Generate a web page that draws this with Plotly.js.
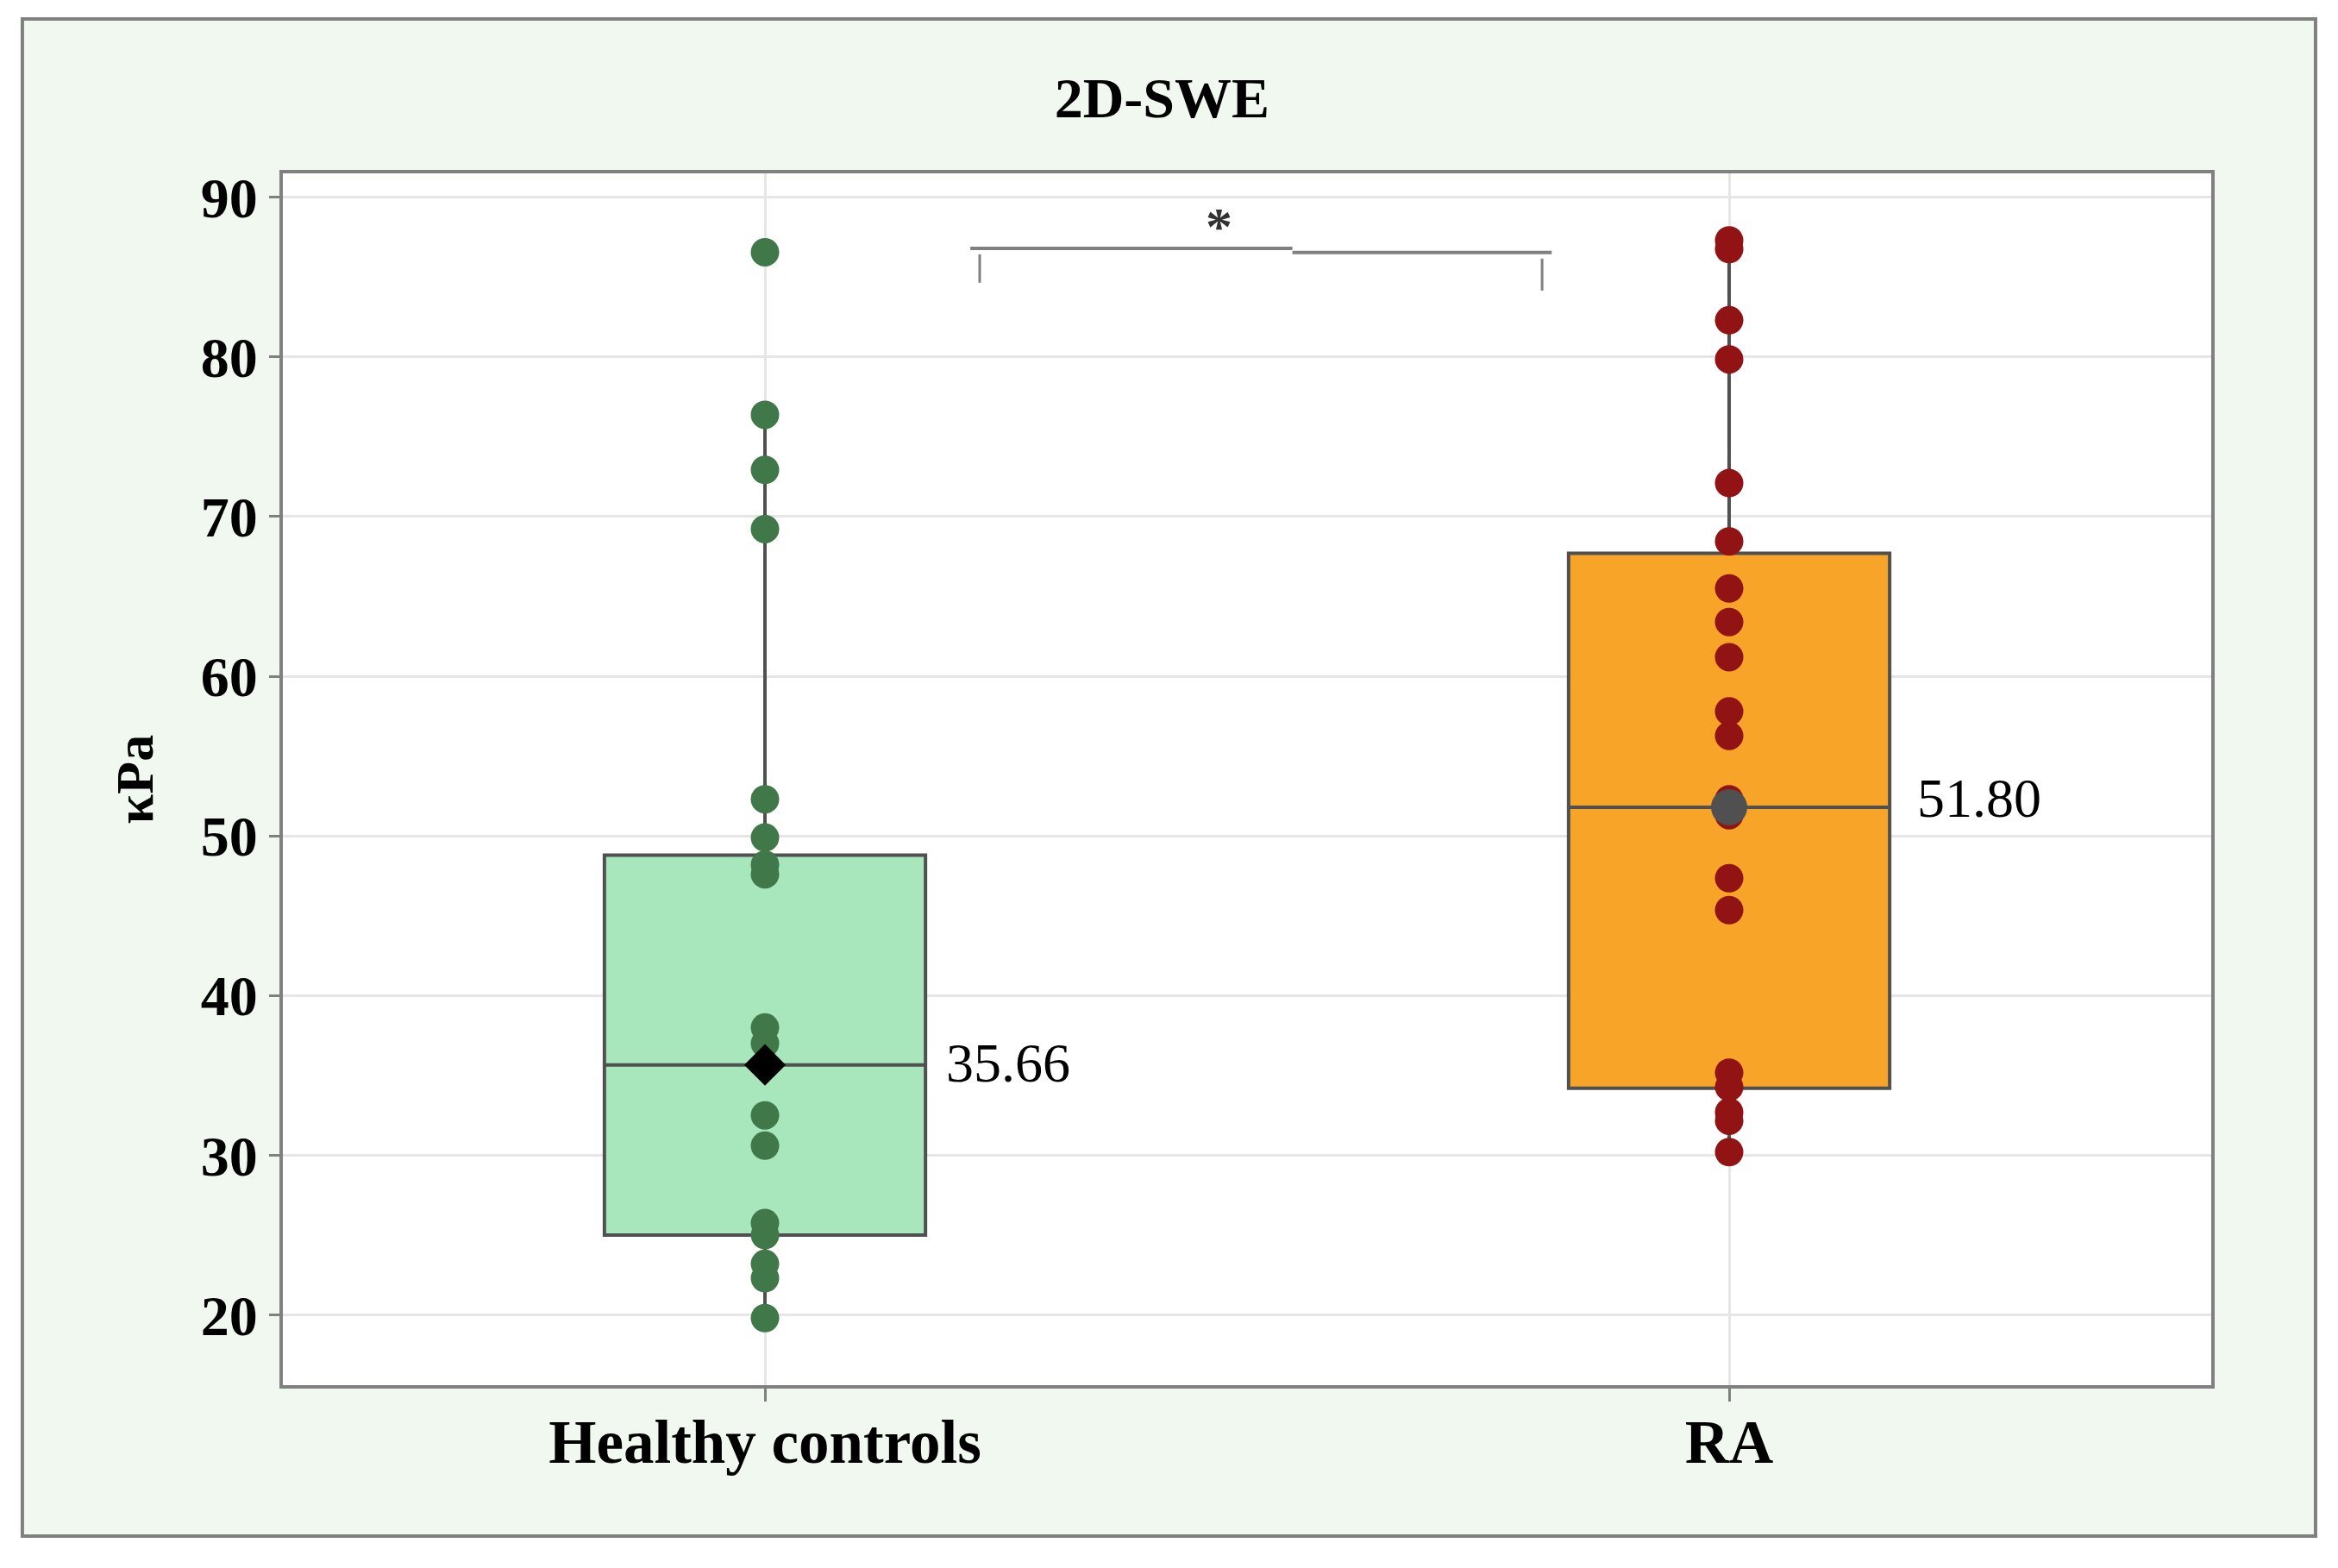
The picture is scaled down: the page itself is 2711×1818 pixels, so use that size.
<!DOCTYPE html>
<html>
<head>
<meta charset="utf-8">
<script src="https://cdn.plot.ly/plotly-3.0.1.min.js"></script>
<style>html,body{margin:0;padding:0;background:#fff;}#chart{width:2711px;height:1818px;}</style>
</head>
<body>
<div id="chart"></div>
<script>
// ---- data ----
const categories = ['Healthy controls', 'RA'];
const hcValues = [86.56, 76.38, 72.93, 69.22, 52.3, 49.9, 48.2, 47.6, 38.0, 37.0, 32.5, 30.6, 25.75, 25.0, 23.2, 22.3, 19.8];
const raValues = [87.3, 86.76, 82.3, 79.85, 72.1, 68.45, 65.5, 63.4, 61.2, 57.8, 56.27, 52.3, 51.3, 47.35, 45.35, 35.17, 34.27, 32.7, 32.16, 30.2];
const q1 = [25.0, 34.2];
const medians = [35.66, 51.80];
const q3 = [48.8, 67.7];
const lowerWhisker = [19.8, 30.2];
const upperWhisker = [76.4, 87.3];
const medianLabels = ['35.66', '51.80'];
const yTickVals = [20, 30, 40, 50, 60, 70, 80, 90];
const chartTitle = '2D-SWE';
const yTitle = 'κPa';
const sigLabel = '*';

// ---- styles ----
const serif = 'Liberation Serif, Times New Roman, serif';
const boxFill = ['#a8e6bc', '#f7a428'];
const pointColor = ['#41784a', '#921313'];
const groups = [hcValues, raValues];
const boxW = 0.333;

const traces = [];
categories.forEach((c, i) => {
  traces.push({
    type: 'box',
    x: [c],
    q1: [q1[i]], median: [medians[i]], q3: [q3[i]],
    lowerfence: [lowerWhisker[i]], upperfence: [upperWhisker[i]],
    width: boxW,
    whiskerwidth: 0,
    fillcolor: boxFill[i],
    line: {color: '#505050', width: 4},
    boxpoints: false,
    hoverinfo: 'skip',
    showlegend: false
  });
});
categories.forEach((c, i) => {
  traces.push({
    type: 'scatter', mode: 'markers',
    x: groups[i].map(() => c), y: groups[i],
    marker: {color: pointColor[i], size: 33, opacity: 1, line: {width: 0}},
    showlegend: false, hoverinfo: 'y'
  });
});
traces.push({
  type: 'scatter', mode: 'markers',
  x: categories, y: medians,
  marker: {symbol: ['diamond', 'circle'], color: ['#000000', '#505050'], size: [37, 42], opacity: 1, line: {width: 0}},
  showlegend: false, hoverinfo: 'y'
});

const bracketColor = '#808080';
const shapes = [
  {type: 'rect', xref: 'paper', yref: 'paper', x0: -0.1351, x1: 1.0541, y0: -0.1246, y1: 1.1274,
   fillcolor: '#f1f8f0', line: {color: '#808080', width: 4}, layer: 'below'},
  {type: 'rect', xref: 'paper', yref: 'paper', x0: 0, x1: 1, y0: 0, y1: 1,
   fillcolor: '#ffffff', line: {width: 0}, layer: 'below'},
  {type: 'line', xref: 'x', yref: 'y', x0: 0.213, x1: 0.547, y0: 86.8, y1: 86.8, line: {color: bracketColor, width: 4}},
  {type: 'line', xref: 'x', yref: 'y', x0: 0.547, x1: 0.816, y0: 86.54, y1: 86.54, line: {color: bracketColor, width: 4}},
  {type: 'line', xref: 'x', yref: 'y', x0: 0.2227, x1: 0.2227, y0: 86.43, y1: 84.65, line: {color: bracketColor, width: 3}},
  {type: 'line', xref: 'x', yref: 'y', x0: 0.806, x1: 0.806, y0: 86.16, y1: 84.16, line: {color: bracketColor, width: 3}}
];

const annotations = [
  {x: 0 + boxW / 2, y: medians[0], xref: 'x', yref: 'y', text: medianLabels[0], showarrow: false,
   xanchor: 'left', yanchor: 'middle', xshift: 22, yshift: 2, font: {family: serif, size: 64, color: '#000'}},
  {x: 1 + boxW / 2, y: medians[1], xref: 'x', yref: 'y', text: medianLabels[1], showarrow: false,
   xanchor: 'left', yanchor: 'middle', xshift: 30, yshift: 10, font: {family: serif, size: 64, color: '#000'}},
  {x: 0.4705, y: 88.2, xref: 'x', yref: 'y', text: sigLabel, showarrow: false,
   xanchor: 'center', yanchor: 'middle', font: {family: serif, size: 62, color: '#333', weight: 700}}
];

const layout = {
  width: 2711, height: 1818,
  margin: {l: 328, r: 147, t: 201, b: 212, pad: 0},
  paper_bgcolor: '#ffffff',
  plot_bgcolor: 'rgba(0,0,0,0)',
  title: {text: chartTitle, x: 0.497, xref: 'container', xanchor: 'center', y: 0.938, yref: 'container', yanchor: 'middle',
          font: {family: serif, size: 66, color: '#000', weight: 700}},
  xaxis: {
    type: 'category', range: [-0.5, 1.5],
    showgrid: true, gridcolor: '#e6e6e6', gridwidth: 3,
    showline: true, mirror: true, linecolor: '#808080', linewidth: 4,
    ticks: 'outside', ticklen: 15, tickwidth: 3, tickcolor: '#808080',
    ticklabelstandoff: -14,
    tickfont: {family: serif, size: 71, color: '#000', weight: 700},
    zeroline: false, fixedrange: true
  },
  yaxis: {
    range: [15.6, 91.5], tickvals: yTickVals,
    showgrid: true, gridcolor: '#e6e6e6', gridwidth: 3,
    showline: true, mirror: true, linecolor: '#808080', linewidth: 4,
    ticks: 'outside', ticklen: 12, tickwidth: 3, tickcolor: '#808080',
    tickfont: {family: serif, size: 66, color: '#000', weight: 700},
    title: {text: yTitle, font: {family: serif, size: 62, color: '#000', weight: 700}, standoff: 36},
    zeroline: false, fixedrange: true
  },
  shapes: shapes,
  annotations: annotations,
  showlegend: false
};

Plotly.newPlot('chart', traces, layout, {displayModeBar: false, staticPlot: true});
</script>
</body>
</html>
